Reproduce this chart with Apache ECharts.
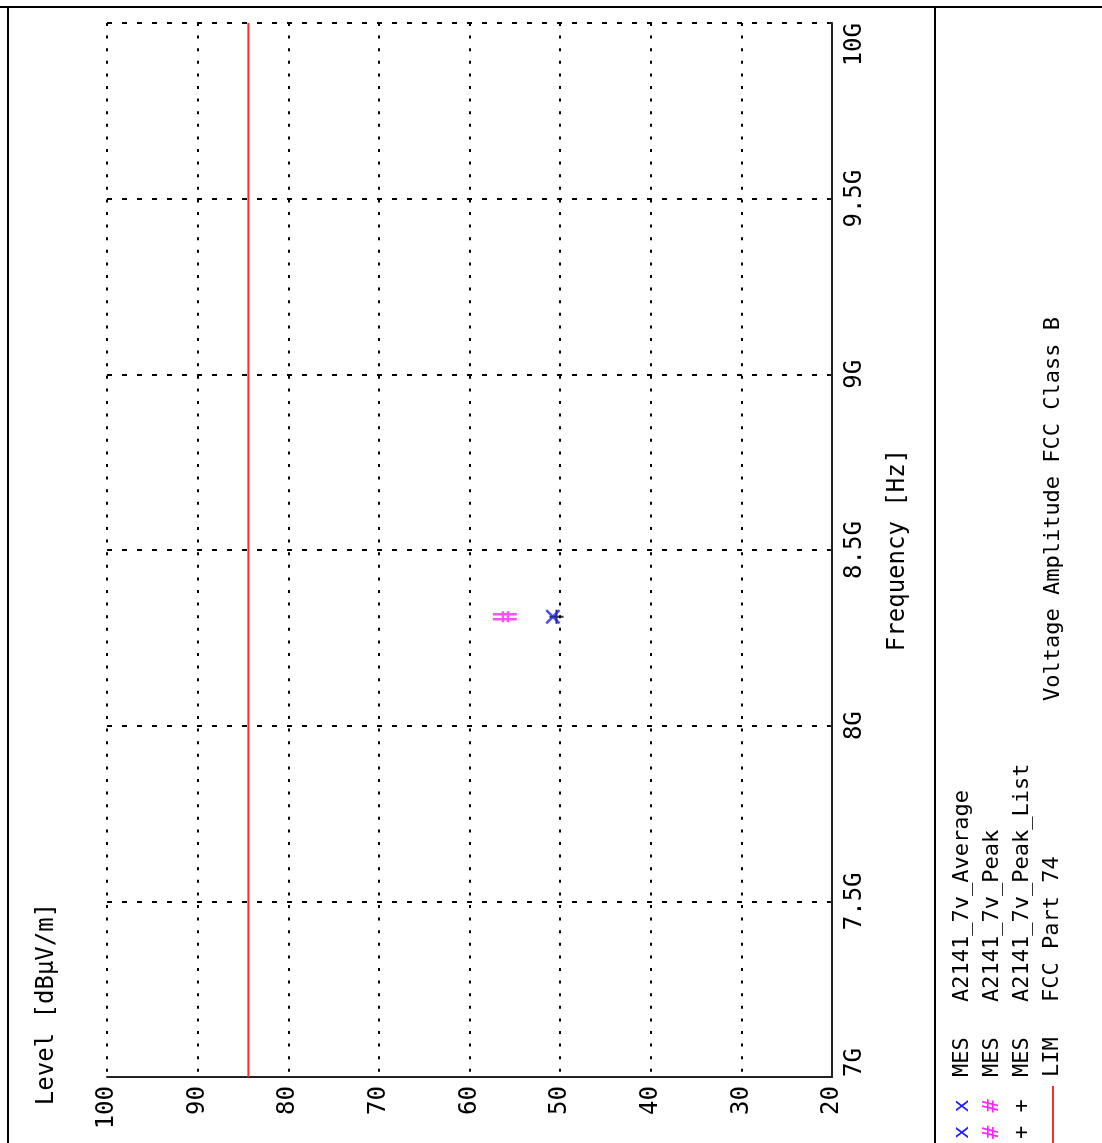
<!DOCTYPE html>
<html>
<head>
<meta charset="utf-8">
<script src="https://cdn.jsdelivr.net/npm/echarts@6/dist/echarts.min.js"></script>
<style>
html,body{margin:0;padding:0;background:#fff;}
#c{width:1102px;height:1143px;}
</style>
</head>
<body>
<div id="c"></div>
<script>
// ---- axis ranges / ticks ----
const levelMin = 20, levelMax = 100, levelStep = 10;          // dBµV/m
const freqMinGHz = 7, freqMaxGHz = 10, freqStepGHz = 0.5;     // GHz
const freqSuffix = 'G';

// ---- series data (frequency in GHz, level in dBµV/m) ----
const avgFreqGHz = [8.31];
const avgLevel = [50.8];
const peakFreqGHz = [8.31];
const peakLevel = [56.1];
const peakListFreqGHz = [8.31];
const peakListLevel = [50.4];
const limitFreqGHz = [7, 10];
const limitLevel = [84.4, 84.4];

// ---- text ----
const xName = 'Level [dBµV/m]';
const yName = 'Frequency [Hz]';
const chartTitle = 'Voltage Amplitude FCC Class B';
const legendTags = ['MES', 'MES', 'MES', 'LIM'];
const legendNames = ['A2141_7v_Average', 'A2141_7v_Peak', 'A2141_7v_Peak_List', 'FCC Part 74'];
const legendMarks = ['x x', '# #', '+ +', ''];

const FONT = 'DejaVu Sans Mono';
const BLUE = '#2020ff', MAGENTA = '#ff22ff', RED = '#ff2a2a';

const pts = (f, l) => f.map((v, i) => [l[i], v]);

const pathX = 'path://M0,2.4 L2.4,0 L20,17.6 L17.6,20 Z M17.6,0 L20,2.4 L2.4,20 L0,17.6 Z';
const pathHash = 'path://M0,1.8 L24,1.8 L24,4.2 L0,4.2 Z M0,6.8 L24,6.8 L24,9.2 L0,9.2 Z M8.8,0 L11.2,0 L11.2,11 L8.8,11 Z M13.8,0 L16.2,0 L16.2,11 L13.8,11 Z';
const pathPlus = 'path://M0,6 L14,6 L14,8 L0,8 Z M6,0 L8,0 L8,14 L6,14 Z';

function vtext(x, y, text, opts) {
  opts = opts || {};
  return {
    type: 'text', x: x, y: y, rotation: Math.PI / 2, z: 100,
    style: {
      text: text,
      fontFamily: FONT,
      fontSize: opts.size || 22,
      fill: opts.color || '#000',
      align: opts.align || 'left',
      verticalAlign: 'middle'
    }
  };
}
function gline(x1, y1, x2, y2, color) {
  return { type: 'line', z: 100, shape: { x1, y1, x2, y2 }, style: { stroke: color || '#000', lineWidth: 2 } };
}

const rowsX = [962, 992, 1022, 1052];
const markColors = [BLUE, MAGENTA, '#000', '#000'];
const graphics = [
  gline(0, 7, 1102, 7),
  gline(8, 7, 8, 1143),
  gline(935, 7, 935, 1143),
  vtext(47, 1004, xName, { size: 24, align: 'center' }),
  vtext(1053, 509, chartTitle, { size: 22, align: 'center' }),
  gline(1053, 1086, 1053, 1143, RED)
];
rowsX.forEach((x, i) => {
  if (legendMarks[i]) graphics.push(vtext(x, 1139, legendMarks[i], { color: markColors[i] }));
  graphics.push(vtext(x, 1077, legendTags[i]));
  graphics.push(vtext(x, 1002, legendNames[i]));
});

const chart = echarts.init(document.getElementById('c'));
chart.setOption({
  animation: false,
  backgroundColor: '#fff',
  grid: { left: 107, right: 270, top: 23, bottom: 66, containLabel: false, outerBoundsMode: 'none' },
  xAxis: {
    type: 'value', min: levelMin, max: levelMax, interval: levelStep, inverse: true,
    position: 'bottom',
    axisLine: { show: true, lineStyle: { color: '#222', width: 2 } },
    axisTick: { show: false },
    axisLabel: { rotate: 90, margin: 9, fontFamily: FONT, fontSize: 24, color: '#000', showMinLabel: true, showMaxLabel: true },
    splitLine: { show: true, lineStyle: { type: [3, 9.6], color: '#000', width: 2 } }
  },
  yAxis: {
    type: 'value', min: freqMinGHz, max: freqMaxGHz, interval: freqStepGHz,
    position: 'right',
    name: yName, nameLocation: 'middle', nameGap: 54,
    nameTextStyle: { fontFamily: FONT, fontSize: 24, color: '#000' },
    axisLine: { show: true, lineStyle: { color: '#222', width: 2 } },
    axisTick: { show: true, inside: true, length: 3, lineStyle: { color: '#222', width: 1.5 } },
    axisLabel: {
      rotate: 90, margin: 11, fontFamily: FONT, fontSize: 24, color: '#000',
      formatter: v => v + freqSuffix,
      alignMinLabel: 'left', alignMaxLabel: 'right', showMinLabel: true, showMaxLabel: true
    },
    splitLine: { show: true, lineStyle: { type: [5, 10], color: '#000', width: 2 } }
  },
  series: [
    { name: legendNames[3], type: 'line', data: pts(limitFreqGHz, limitLevel), symbol: 'none',
      lineStyle: { color: RED, width: 2 }, z: 2, silent: true },
    { name: legendNames[2], type: 'scatter', data: pts(peakListFreqGHz, peakListLevel), symbol: pathPlus,
      symbolSize: 14, itemStyle: { color: '#000' }, z: 3 },
    { name: legendNames[1], type: 'scatter', data: pts(peakFreqGHz, peakLevel), symbol: pathHash,
      symbolSize: [24, 11], itemStyle: { color: MAGENTA }, z: 4 },
    { name: legendNames[0], type: 'scatter', data: pts(avgFreqGHz, avgLevel), symbol: pathX,
      symbolSize: 15, itemStyle: { color: BLUE }, z: 5 }
  ],
  graphic: graphics
});
</script>
</body>
</html>
